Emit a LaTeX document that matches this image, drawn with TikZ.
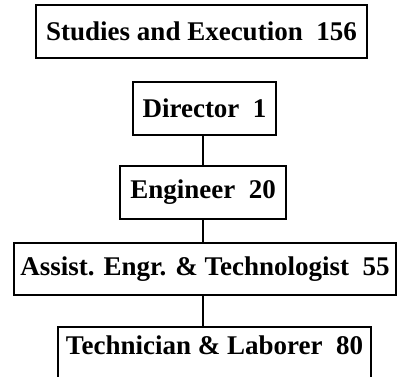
\documentclass[tikz,border=0pt]{standalone}
\usepackage{fontspec}
\setmainfont{Liberation Serif}
\usepackage{tikz}
\usetikzlibrary{calc}

\tikzset{
    staff/.style={draw, line width=1.2pt, inner sep=0pt, font=\fontsize{27}{30}\selectfont\bfseries},
    link/.style={line width=2pt}
}

\begin{document}
\begin{tikzpicture}[x=1pt, y=-1pt]
        \useasboundingbox (0,0) rectangle (397,377);

        % Boxes, top to bottom.
        \node[staff, minimum width=331pt, minimum height=53pt] (studies) at (201.5,31.5) {Studies and Execution~~156};
        \node[staff, minimum width=143pt, minimum height=53pt] (dir) at (204.5,108.5) {Director~~1};
        \node[staff, minimum width=166pt, minimum height=53pt] (eng) at (203,192.5) {Engineer~~20};
        \node[staff, minimum width=382pt, minimum height=52pt] (asst) at (205,269) {Assist. Engr. \& Technologist~~55};
        \node[staff, minimum width=313pt, minimum height=53pt, text depth=17pt] (tech) at (214.5,353.5) {Technician \& Laborer~~80};

        % Links.
        \draw[link] (dir.south -| eng) -- (eng.north);
        \draw[link] (eng.south) -- (eng.south |- asst.north);
        \draw[link] (eng |- asst.south) -- (eng |- tech.north);
    \end{tikzpicture}
\end{document}
